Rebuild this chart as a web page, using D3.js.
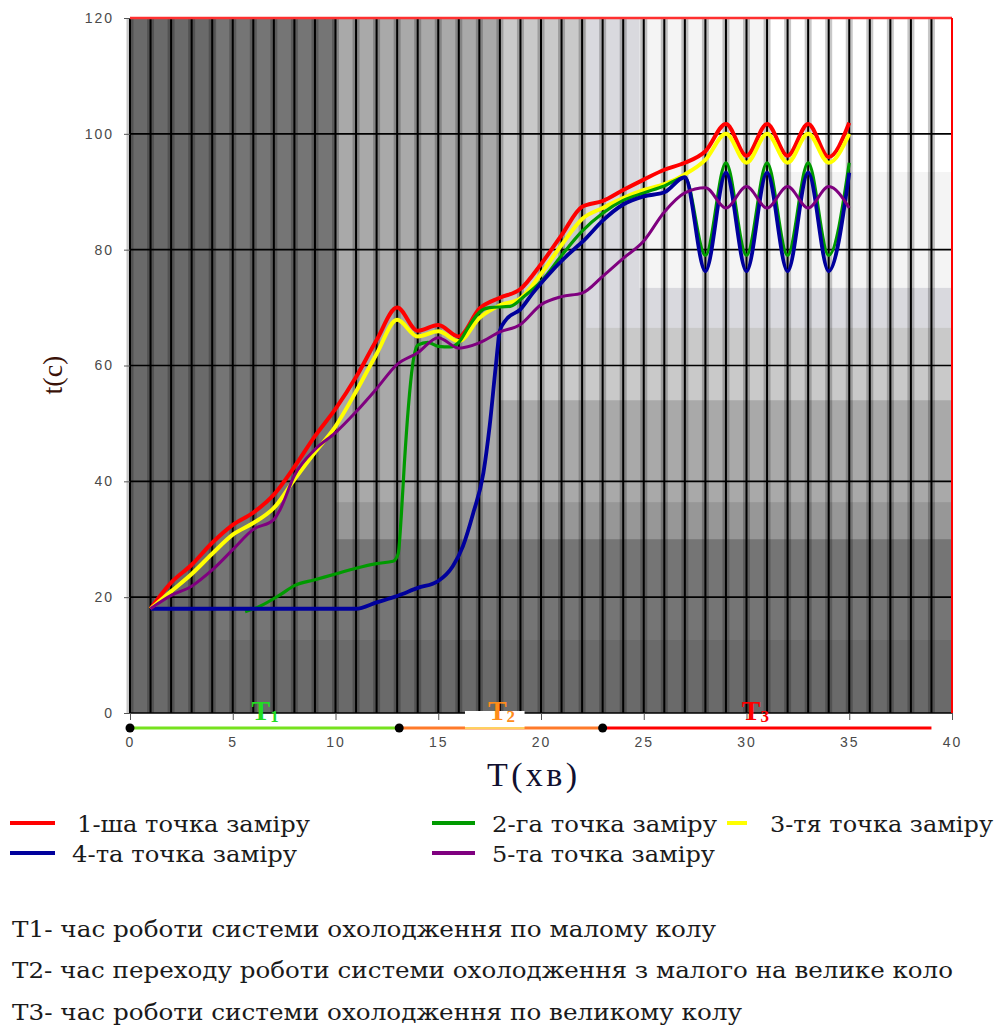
<!DOCTYPE html>
<html>
<head>
<meta charset="utf-8">
<script src="https://cdn.jsdelivr.net/npm/d3@7/dist/d3.min.js"></script>
<style>
    body { margin: 0; background: #fff; }
    svg text.serif { font-family: "Liberation Serif", "DejaVu Serif", serif; }
    svg text.wide { font-family: "DejaVu Serif", "Liberation Serif", serif; }
    .tick-label { font-family: "Liberation Sans", Arial, sans-serif; font-size: 14px; fill: #4a4a4a; letter-spacing: 2px; }
</style>
</head>
<body>
<div id="chart"></div>
<script>
// measurements, minutes -> temperature
const minutes = [1, 2, 3, 4, 5, 6, 7, 8, 9, 10, 11, 12, 13, 14, 15, 16, 17, 18, 19, 20, 21, 22, 23, 24, 25, 26, 27, 28, 29, 30, 31, 32, 33, 34, 35];
const point1 = [18, 22.5, 25.6, 29.4, 32.5, 34.6, 37.7, 42.5, 47.8, 52.5, 58, 64.4, 70, 66, 67, 65, 69.8, 71.7, 73.2, 77.5, 82.5, 87.4, 88.4, 90.3, 92.1, 93.8, 95, 97, 101.7, 96.2, 101.7, 96.2, 101.7, 96, 101.9];
const point3 = [18, 21, 24, 27.5, 30.8, 32.8, 35.4, 40.3, 45, 49.5, 55.5, 62, 67.9, 65, 65.9, 64.2, 68.2, 70.4, 71.6, 75.8, 80.8, 85.3, 87.2, 88.9, 90.3, 91.3, 93, 95.5, 100, 95, 100, 95, 100, 95, 100];
const point2Minutes = [5.6, 6.3, 7.3, 8, 9, 10, 11, 12, 12.8, 13.05, 13.2, 13.35, 13.55, 13.75, 14, 14.5, 15, 15.6, 16, 16.5, 17, 17.5, 18.5, 19.2, 20, 21, 22, 23, 24, 25, 26, 27, 28, 29, 30, 31, 32, 33, 34, 35];
const point2 = [17.5, 18.4, 20.4, 22, 23, 24, 25, 25.8, 26.2, 27.5, 34, 43, 53, 60, 63.5, 64, 63.3, 63.2, 64, 66.8, 69.2, 70, 70.2, 72, 74.5, 79, 83.2, 86.3, 88.5, 89.8, 91, 92.5, 79, 95, 79, 95, 79, 95, 79, 95];
const point4Minutes = [1, 11, 12, 13, 14, 15, 15.7, 16.2, 16.7, 17.2, 17.5, 17.8, 18, 18.3, 19, 19.6, 20.6, 21.4, 22.2, 23, 24, 25, 26, 27, 28, 29, 30, 31, 32, 33, 34, 35];
const point4 = [18, 18, 19.1, 20.2, 21.6, 22.8, 25.3, 28.8, 34.5, 41.5, 49.5, 59.9, 66, 67.9, 69.7, 72.5, 76.6, 79.4, 82, 85, 87.8, 89.2, 89.9, 92.5, 76.3, 93.3, 76.3, 93.3, 76.3, 93.3, 76.3, 93.3];
const point5Minutes = [1, 2, 3, 4, 5, 6, 7, 7.3, 8, 9, 10, 11, 12, 13, 14, 15, 16, 17, 18, 19, 20, 21, 22, 23, 24, 25, 26, 27, 28, 29, 30, 31, 32, 33, 34, 35];
const point5 = [18, 20.3, 21.9, 24.7, 28.2, 31.7, 33.4, 35.1, 41, 45.5, 48.4, 52, 56, 60.2, 62.2, 64.8, 63, 63.9, 65.8, 67.1, 70.5, 71.9, 72.5, 75.4, 78.5, 81.5, 86.5, 89.8, 90.7, 87.2, 90.9, 87.2, 90.9, 87.2, 90.9, 87.2];

const seriesNames = ['1-ша точка заміру', '2-га точка заміру', '3-тя точка заміру', '4-та точка заміру', '5-та точка заміру'];
const seriesColors = ['#ff0000', '#009a00', '#ffff00', '#00009c', '#7f007f'];

// cooling system phases (minutes)
const phaseBounds = [0, 13.1, 23, 39];
const phaseNames = ['1', '2', '3'];
const phaseColors = ['#76e21e', '#ff7a2a', '#ff0000'];
const phaseLabelColors = ['#22dd22', '#ff8c1a', '#ff0000'];

const xTicks = [0, 5, 10, 15, 20, 25, 30, 35, 40];
const yTicks = [0, 20, 40, 60, 80, 100, 120];

const notes = [
    'T1- час роботи системи охолодження по малому колу',
    'T2- час переходу роботи системи охолодження з малого на велике коло',
    'T3- час роботи системи охолодження по великому колу'
];

const width = 998, height = 1032;
const margin = { left: 130, right: 46, top: 18, bottom: 319 };

const x = d3.scaleLinear().domain([0, 40]).range([margin.left, width - margin.right]);
const y = d3.scaleLinear().domain([0, 120]).range([height - margin.bottom, margin.top]);

const svg = d3.select('#chart').append('svg')
    .attr('width', width)
    .attr('height', height);

// backdrop: stepped grey shading, lighter towards the top right
const shades = [
    { from: 0, above: 0, fill: '#6a6a6a' },
    { from: 4.2, above: 12.6, fill: '#757575' },
    { from: 10, above: 30, fill: '#979797' },
    { from: 10, above: 36.4, fill: '#a9a9a9' },
    { from: 18, above: 54, fill: '#c9c9c9' },
    { from: 22.2, above: 66.5, fill: '#d9d9de' },
    { from: 24.8, above: 73.4, fill: '#f4f4f4' },
    { from: 31, above: 93.4, fill: '#ffffff' }
];
svg.append('g').selectAll('rect')
    .data(shades)
    .enter()
    .append('rect')
    .attr('x', d => x(d.from))
    .attr('y', y(120))
    .attr('width', d => x(40) - x(d.from))
    .attr('height', d => y(d.above) - y(120))
    .attr('fill', d => d.fill);

// grid
const grid = svg.append('g');
const cols = d3.range(0, 40);
grid.selectAll('line.shadow')
    .data(cols)
    .enter()
    .append('line')
    .attr('class', 'shadow')
    .attr('x1', d => x(d)).attr('x2', d => x(d))
    .attr('y1', y(120)).attr('y2', y(0))
    .attr('stroke', '#000')
    .attr('stroke-opacity', 0.22)
    .attr('stroke-width', 7);
grid.selectAll('line.v')
    .data(cols)
    .enter()
    .append('line')
    .attr('class', 'v')
    .attr('x1', d => x(d)).attr('x2', d => x(d))
    .attr('y1', y(120)).attr('y2', y(0))
    .attr('stroke', '#000')
    .attr('stroke-width', 2);
grid.selectAll('line.h')
    .data(yTicks.filter(t => t < 120))
    .enter()
    .append('line')
    .attr('class', 'h')
    .attr('x1', x(0)).attr('x2', x(40))
    .attr('y1', d => y(d)).attr('y2', d => y(d))
    .attr('stroke', '#000')
    .attr('stroke-width', 1.6);

// red frame top and right
grid.append('line')
    .attr('x1', x(0)).attr('x2', x(40))
    .attr('y1', y(120)).attr('y2', y(120))
    .attr('stroke', '#ff3030').attr('stroke-width', 2.5);
grid.append('line')
    .attr('x1', x(40)).attr('x2', x(40))
    .attr('y1', y(120)).attr('y2', y(0))
    .attr('stroke', '#ff0000').attr('stroke-width', 2);

// axes
const yAxis = svg.append('g')
    .attr('transform', `translate(${x(0)},0)`)
    .call(d3.axisLeft(y).tickValues(yTicks).tickSize(6).tickPadding(10));
yAxis.select('.domain').remove();
yAxis.selectAll('line').attr('stroke', '#555');
yAxis.selectAll('text').attr('class', 'tick-label').attr('font-size', null).attr('font-family', null);

const xAxis = svg.append('g')
    .attr('transform', `translate(0,${y(0)})`)
    .call(d3.axisBottom(x).tickValues(xTicks).tickSize(7).tickPadding(17));
xAxis.select('.domain').remove();
xAxis.selectAll('line').attr('stroke', '#555');
xAxis.selectAll('text').attr('class', 'tick-label').attr('font-size', null).attr('font-family', null);

// series
const line = d3.line()
    .x(d => x(d[0]))
    .y(d => y(d[1]))
    .curve(d3.curveMonotoneX);

const series = [
    { xs: minutes, ys: point1, color: seriesColors[0], w: 4 },
    { xs: minutes, ys: point3, color: seriesColors[2], w: 4 },
    { xs: point2Minutes, ys: point2, color: seriesColors[1], w: 3.2 },
    { xs: point4Minutes, ys: point4, color: seriesColors[3], w: 3.8 },
    { xs: point5Minutes, ys: point5, color: seriesColors[4], w: 3 }
];
svg.append('g').selectAll('path')
    .data(series)
    .enter()
    .append('path')
    .attr('d', s => line(d3.zip(s.xs, s.ys)))
    .attr('fill', 'none')
    .attr('stroke', s => s.color)
    .attr('stroke-width', s => s.w)
    .attr('stroke-linejoin', 'round');

// phase bar under the axis
const phaseY = 728;
const phases = phaseNames.map((n, i) => ({ name: n, a: phaseBounds[i], b: phaseBounds[i + 1], color: phaseColors[i], label: phaseLabelColors[i] }));
const phaseG = svg.append('g');
phaseG.selectAll('line')
    .data(phases)
    .enter()
    .append('line')
    .attr('x1', d => x(d.a)).attr('x2', d => x(d.b))
    .attr('y1', phaseY).attr('y2', phaseY)
    .attr('stroke', d => d.color)
    .attr('stroke-width', 3);
phaseG.append('rect')
    .attr('x', x(16.3)).attr('y', 711)
    .attr('width', x(19.2) - x(16.3)).attr('height', 16)
    .attr('fill', '#fff');
phaseG.append('line')
    .attr('x1', x(16.3)).attr('x2', x(19.2))
    .attr('y1', phaseY).attr('y2', phaseY)
    .attr('stroke', '#ffd060').attr('stroke-width', 2);
phaseG.selectAll('circle')
    .data(phaseBounds.slice(0, 3))
    .enter()
    .append('circle')
    .attr('cx', d => x(d)).attr('cy', phaseY)
    .attr('r', 4.5)
    .attr('fill', '#000');
const phaseText = phaseG.selectAll('text')
    .data(phases)
    .enter()
    .append('text')
    .attr('class', 'serif')
    .attr('x', d => x((d.a + d.b) / 2 - (d.name === '3' ? 0.6 : 0)) - 13)
    .attr('y', 720)
    .attr('fill', d => d.label)
    .attr('font-weight', 'bold')
    .attr('font-size', 28);
phaseText.append('tspan').text('T');
phaseText.append('tspan').attr('font-size', 17).attr('dy', 2).text(d => d.name);

// axis titles
svg.append('text')
    .attr('class', 'serif')
    .attr('transform', 'translate(62,375) rotate(-90)')
    .attr('text-anchor', 'middle')
    .attr('font-size', 28)
    .attr('fill', '#3a1208')
    .text('t(c)');
svg.append('text')
    .attr('class', 'serif')
    .attr('x', 487).attr('y', 786)
    .attr('font-size', 34)
    .attr('textLength', 90)
    .attr('lengthAdjust', 'spacing')
    .attr('fill', '#101030')
    .text('T(хв)');

// legend
const legendItems = [
    { i: 0, lx: 10, lw: 45, tx: 77, tw: 233, row: 0 },
    { i: 1, lx: 432, lw: 43, tx: 492, tw: 225, row: 0 },
    { i: 2, lx: 727, lw: 20, tx: 770, tw: 223, row: 0 },
    { i: 3, lx: 10, lw: 45, tx: 72, tw: 225, row: 1 },
    { i: 4, lx: 432, lw: 43, tx: 492, tw: 223, row: 1 }
];
const legend = svg.append('g');
legend.selectAll('line')
    .data(legendItems)
    .enter()
    .append('line')
    .attr('x1', d => d.lx).attr('x2', d => d.lx + d.lw)
    .attr('y1', d => 823 + d.row * 30).attr('y2', d => 823 + d.row * 30)
    .attr('stroke', d => seriesColors[d.i])
    .attr('stroke-width', 4);
legend.selectAll('text')
    .data(legendItems)
    .enter()
    .append('text')
    .attr('class', 'wide')
    .attr('x', d => d.tx)
    .attr('y', d => 832 + d.row * 30)
    .attr('font-size', 22)
    .attr('fill', '#1a1a1a')
    .attr('textLength', d => d.tw)
    .attr('lengthAdjust', 'spacingAndGlyphs')
    .text(d => seriesNames[d.i]);

// phase descriptions
const noteWidths = [704, 941, 730];
svg.append('g').selectAll('text')
    .data(notes)
    .enter()
    .append('text')
    .attr('class', 'wide')
    .attr('x', 12)
    .attr('y', (d, i) => [937, 978, 1020][i])
    .attr('font-size', 22)
    .attr('fill', '#1a1a1a')
    .attr('textLength', (d, i) => noteWidths[i])
    .attr('lengthAdjust', 'spacingAndGlyphs')
    .text(d => d);
</script>
</body>
</html>
